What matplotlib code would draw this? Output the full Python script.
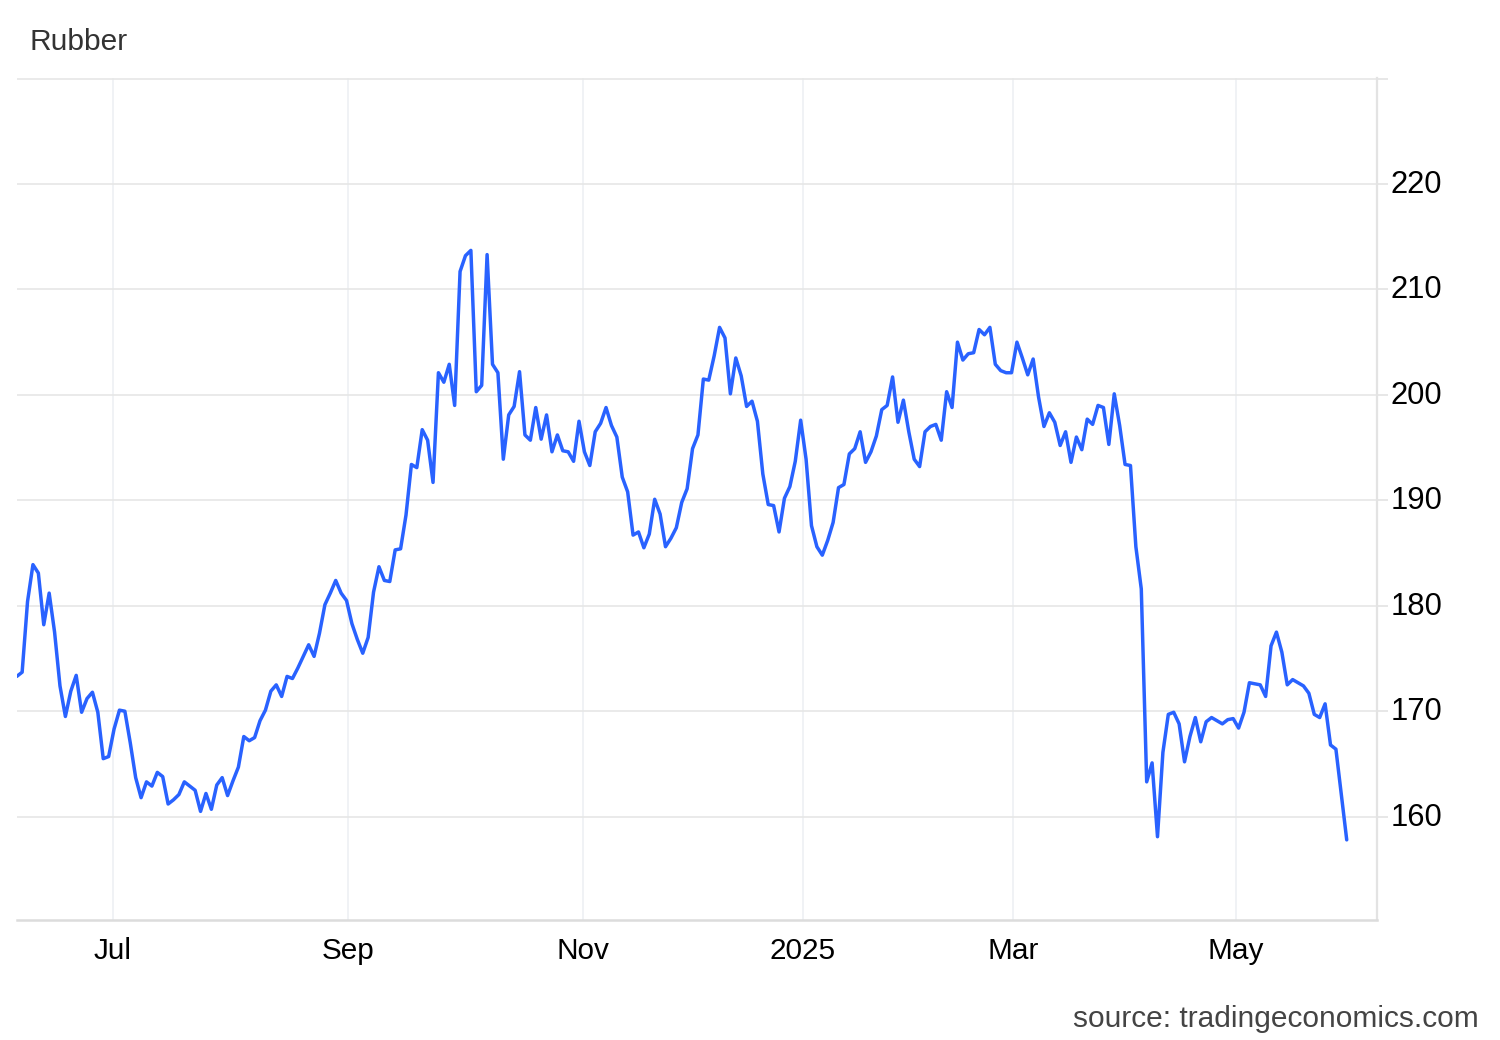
import matplotlib
matplotlib.use("Agg")
import matplotlib.pyplot as plt
import matplotlib.transforms as mtransforms
import numpy as np

plt.rcParams['font.family'] = ['Liberation Sans', 'DejaVu Sans']

# Rubber price, one value per trading session (Jun 2024 - Jun 2025)
values = [
    173.3, 173.7, 180.4, 183.9, 183.1, 178.2, 181.2, 177.5, 172.4, 169.5,
    171.9, 173.4, 169.9, 171.2, 171.8, 169.9, 165.5, 165.7, 168.3, 170.1,
    170.0, 167.0, 163.7, 161.8, 163.3, 162.9, 164.2, 163.8, 161.2, 161.6,
    162.1, 163.3, 162.9, 162.5, 160.5, 162.2, 160.7, 163.0, 163.7, 162.0,
    163.4, 164.7, 167.6, 167.2, 167.5, 169.1, 170.1, 171.9, 172.5, 171.4,
    173.3, 173.1, 174.1, 175.2, 176.3, 175.2, 177.4, 180.1, 181.2, 182.4,
    181.2, 180.5, 178.3, 176.8, 175.5, 177.0, 181.3, 183.7, 182.4, 182.3,
    185.3, 185.4, 188.6, 193.4, 193.1, 196.7, 195.7, 191.7, 202.1, 201.2,
    202.9, 199.0, 211.7, 213.2, 213.7, 200.3, 200.9, 213.3, 202.9, 202.1,
    193.9, 198.1, 198.9, 202.2, 196.2, 195.7, 198.8, 195.8, 198.1, 194.6,
    196.2, 194.7, 194.6, 193.7, 197.5, 194.6, 193.3, 196.5, 197.3, 198.8,
    197.1, 196.0, 192.2, 190.8, 186.7, 187.0, 185.5, 186.8, 190.1, 188.7,
    185.6, 186.4, 187.4, 189.8, 191.1, 194.9, 196.2, 201.5, 201.4, 203.7,
    206.4, 205.4, 200.1, 203.5, 201.8, 198.9, 199.4, 197.5, 192.5, 189.6,
    189.5, 187.0, 190.2, 191.3, 193.7, 197.6, 193.9, 187.6, 185.6, 184.8,
    186.2, 187.9, 191.2, 191.5, 194.4, 194.9, 196.5, 193.6, 194.6, 196.1,
    198.6, 199.0, 201.7, 197.4, 199.5, 196.5, 193.9, 193.2, 196.5, 197.0,
    197.2, 195.7, 200.3, 198.8, 205.0, 203.3, 203.9, 204.0, 206.2, 205.7,
    206.4, 202.9, 202.3, 202.1, 202.1, 205.0, 203.5, 201.9, 203.4, 199.8,
    197.0, 198.3, 197.4, 195.2, 196.5, 193.6, 196.0, 194.8, 197.7, 197.2,
    199.0, 198.8, 195.3, 200.1, 197.1, 193.4, 193.3, 185.6, 181.6, 163.3,
    165.1, 158.1, 166.1, 169.7, 169.9, 168.8, 165.2, 167.6, 169.4, 167.1,
    169.0, 169.4, 169.1, 168.8, 169.2, 169.3, 168.4, 169.9, 172.7, 172.6,
    172.5, 171.4, 176.2, 177.5, 175.6, 172.5, 173.0, 172.7, 172.4, 171.7,
    169.7, 169.4, 170.7, 166.8, 166.4, 157.8,
]
# session index at which each labelled month begins
month_sessions = [17.8, 61.3, 104.7, 145.4, 184.3, 225.5]
month_labels = ['Jul', 'Sep', 'Nov', '2025', 'Mar', 'May']
y_ticks = [160, 170, 180, 190, 200, 210, 220, 230]
y_labels = ['160', '170', '180', '190', '200', '210', '220', '']

W, H = 1500, 1040
fig = plt.figure(figsize=(W / 100, H / 100), dpi=100)
ax = fig.add_axes([17 / W, 1 - 920 / H, (1377 - 17) / W, (920 - 78) / H])

x = np.arange(len(values), dtype=float)
x[-1] += 1  # last print comes one session later
ax.plot(x, values, color='#2962FF', lw=2.5, solid_joinstyle='round',
        solid_capstyle='round', zorder=3)

ax.set_xlim(0.05, 251.6)
ax.set_ylim(150.2, 230.05)

ax.set_yticks(y_ticks)
ax.set_yticklabels(y_labels)
ax.yaxis.tick_right()
ax.set_xticks(month_sessions)
ax.set_xticklabels(month_labels)

ax.tick_params(axis='y', which='both', length=8, width=1.2, color='#e3e3e3',
               pad=1.5, labelsize=22.3, labelcolor='#000000')
ax.tick_params(axis='x', which='both', length=0, pad=12,
               labelsize=21.4, labelcolor='#000000')

# nudge y labels up slightly
offset = mtransforms.ScaledTranslation(0, 2.5 / 100, fig.dpi_scale_trans)
for lbl in ax.get_yticklabels():
    lbl.set_transform(lbl.get_transform() + offset)

ax.grid(axis='y', color='#e6e6e6', lw=1.2, zorder=0)
ax.grid(axis='x', color='#eef0f3', lw=1.2, zorder=0)

for s in ['left', 'top']:
    ax.spines[s].set_visible(False)
ax.spines['right'].set_color('#e3e3e3')
ax.spines['right'].set_linewidth(1.6)
ax.spines['bottom'].set_color('#dcdcdc')
ax.spines['bottom'].set_linewidth(1.8)

fig.text(29 / W, 1 - 50 / H, 'Rubber', ha='left', va='baseline',
         fontsize=21.5, color='#333333')
fig.text(1479 / W, 1 - 1027 / H, 'source: tradingeconomics.com', ha='right',
         va='baseline', fontsize=21.5, color='#444444')

fig.savefig('out.png', dpi=100, facecolor='white')
